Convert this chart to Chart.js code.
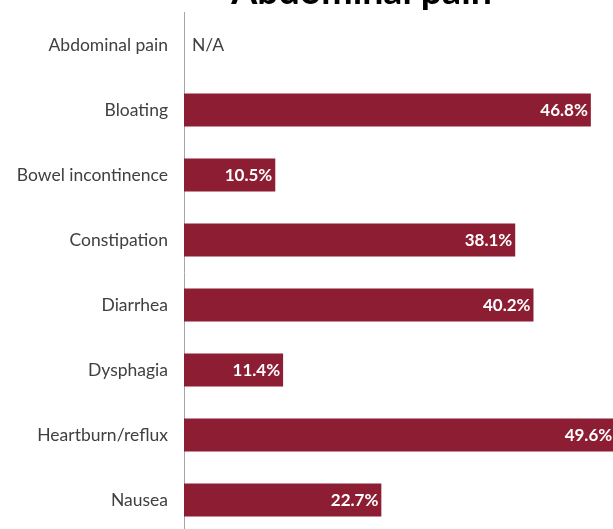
<!DOCTYPE html>
<html>
<head>
<meta charset="utf-8">
<script src="https://cdn.jsdelivr.net/npm/chart.js@4"></script>
<style>
  html, body { margin: 0; padding: 0; background: #ffffff; overflow: hidden; }
  body { width: 613px; height: 529px; position: relative; }
  #wrap { position: absolute; left: 0; top: -27px; width: 723px; height: 586px; }
</style>
</head>
<body>
<div id="wrap"><canvas id="chart" width="723" height="586"></canvas></div>
<script>
// Symptoms reported alongside abdominal pain (% of patients)
const categories = [
  'Abdominal pain',
  'Bloating',
  'Bowel incontinence',
  'Constipation',
  'Diarrhea',
  'Dysphagia',
  'Heartburn/reflux',
  'Nausea'
];
// null = not applicable (the symptom itself)
const percentValues = [null, 46.8, 10.5, 38.1, 40.2, 11.4, 49.6, 22.7];
const chartTitle = 'Abdominal pain';
const naLabel = 'N/A';

const barColor = '#8c1d33';
const textColor = '#404040';

// Writes each bar's value inside its right end, or N/A when there is no value
const barValueLabels = {
  id: 'barValueLabels',
  afterDatasetsDraw(chart) {
    const ctx = chart.ctx;
    const meta = chart.getDatasetMeta(0);
    const yScale = chart.scales.y;
    const area = chart.chartArea;
    ctx.save();
    ctx.textBaseline = 'middle';
    percentValues.forEach((v, i) => {
      const y = yScale.getPixelForValue(i);
      if (v === null) {
        ctx.font = '17.5px Lato';
        ctx.fillStyle = textColor;
        ctx.textAlign = 'left';
        ctx.fillText(naLabel, area.left + 8, y);
      } else {
        const bar = meta.data[i];
        ctx.font = 'bold 17px Lato';
        ctx.fillStyle = '#ffffff';
        ctx.textAlign = 'right';
        ctx.fillText(v.toFixed(1) + '%', bar.x - 3, y + 1);
      }
    });
    ctx.restore();
  }
};

new Chart(document.getElementById('chart'), {
  type: 'bar',
  data: {
    labels: categories,
    datasets: [{
      data: percentValues,
      backgroundColor: barColor,
      borderWidth: 0,
      barPercentage: 1,
      categoryPercentage: 0.505
    }]
  },
  options: {
    indexAxis: 'y',
    responsive: false,
    animation: false,
    layout: { padding: 0 },
    plugins: {
      legend: { display: false },
      tooltip: { enabled: false },
      title: {
        display: true,
        text: chartTitle,
        color: '#000000',
        font: { family: 'Lato', size: 37.5, weight: 'bold', lineHeight: 1 },
        padding: { top: 0, bottom: 2 }
      }
    },
    scales: {
      x: {
        display: false,
        min: 0,
        max: 62
      },
      y: {
        grid: { display: false, drawTicks: false },
        border: { display: true, color: '#a6a6a6', width: 1 },
        ticks: {
          color: textColor,
          font: { family: 'Lato', size: 17.5 },
          padding: 16
        },
        afterFit(scale) { scale.width = 184; }
      }
    }
  },
  plugins: [barValueLabels]
});
</script>
</body>
</html>
